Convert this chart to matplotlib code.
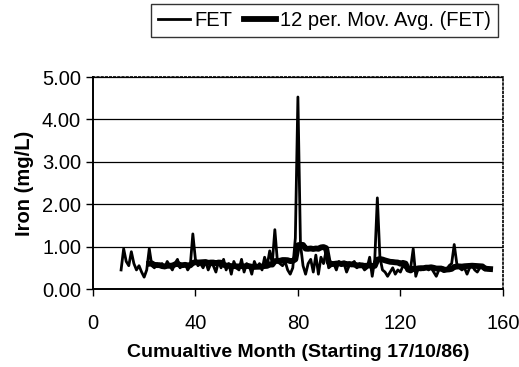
import numpy as np
import pandas as pd
import matplotlib.pyplot as plt
from matplotlib.ticker import FormatStrFormatter

plt.rcParams["font.family"] = ["Liberation Sans", "DejaVu Sans"]

# monthly iron readings (mg/L), months 11..155
months = list(range(11, 156))
fet = [
    0.45, 0.95, 0.65, 0.55, 0.88, 0.60, 0.45, 0.55, 0.40, 0.28, 0.45, 0.95,
    0.55, 0.50, 0.60, 0.55, 0.60, 0.50, 0.65, 0.55, 0.45, 0.60, 0.70, 0.50,
    0.55, 0.60, 0.45, 0.55, 1.30,
    0.70, 0.55, 0.60, 0.50, 0.65, 0.45, 0.60, 0.55, 0.40, 0.65, 0.50, 0.70,
    0.45, 0.60, 0.35, 0.65,
    0.50, 0.45, 0.70, 0.40, 0.60, 0.55, 0.35, 0.65, 0.50, 0.60, 0.45, 0.75,
    0.55, 0.90, 0.60,
    1.40, 0.65, 0.60, 0.55, 0.65, 0.45, 0.35, 0.50, 1.20, 4.53,
    1.05, 0.55, 0.35, 0.60, 0.70, 0.40, 0.80, 0.35, 0.75, 0.60, 0.90, 0.50,
    0.55, 0.60, 0.45, 0.65, 0.55, 0.60, 0.40, 0.55, 0.60, 0.65, 0.50, 0.60,
    0.55, 0.45, 0.50, 0.75,
    0.30, 0.70, 2.15, 0.75, 0.45, 0.40, 0.30, 0.40, 0.50, 0.35, 0.45, 0.40,
    0.55, 0.50, 0.45, 0.50, 0.95, 0.30,
    0.50, 0.45, 0.50, 0.50, 0.45, 0.50, 0.40, 0.30, 0.45, 0.50, 0.50, 0.45,
    0.55, 0.60, 1.05, 0.60,
    0.50, 0.45, 0.50, 0.35, 0.50, 0.55, 0.45, 0.40, 0.50, 0.55, 0.45, 0.50,
    0.45,
]

df = pd.DataFrame({"month": months, "fet": fet})
df["ma"] = df["fet"].rolling(12).mean()

fig = plt.figure(figsize=(5.19, 3.67), dpi=100)
ax = fig.add_axes([0.179, 0.2125, 0.79, 0.5775])

ax.plot(df["month"], df["fet"], color="black", lw=2.0, label="FET", zorder=3)
ax.plot(df["month"], df["ma"], color="black", lw=4.2,
        label="12 per. Mov. Avg. (FET)", zorder=4)

ax.set_xlim(0, 160)
ax.set_ylim(0, 5)
ax.set_xticks([0, 40, 80, 120, 160])
ax.set_yticks([0, 1, 2, 3, 4, 5])
ax.yaxis.set_major_formatter(FormatStrFormatter("%.2f"))
ax.tick_params(direction="out", length=5, width=1, labelsize=14.5, color="black")
ax.tick_params(axis="x", pad=13)
ax.grid(axis="y", color="black", lw=0.9)
ax.set_axisbelow(True)

for side in ["top", "right"]:
    ax.spines[side].set_linestyle((0, (1, 1.5)))
    ax.spines[side].set_linewidth(1.2)
for side in ["left", "bottom"]:
    ax.spines[side].set_linewidth(1.4)

ax.set_xlabel("Cumualtive Month (Starting 17/10/86)", fontsize=14,
              fontweight="bold", labelpad=8)
ax.set_ylabel("Iron (mg/L)", fontsize=14.5, fontweight="bold", labelpad=6)

leg = fig.legend(loc="upper right", bbox_to_anchor=(0.96, 0.99), ncol=2,
                 fontsize=14.5, frameon=True, fancybox=False, handlelength=1.6,
                 handletextpad=0.2, columnspacing=0.6, borderpad=0.35,
                 borderaxespad=0.0)
leg.get_frame().set_edgecolor("black")
leg.get_frame().set_linewidth(1.0)

plt.savefig("out.png", dpi=100, facecolor="white")
